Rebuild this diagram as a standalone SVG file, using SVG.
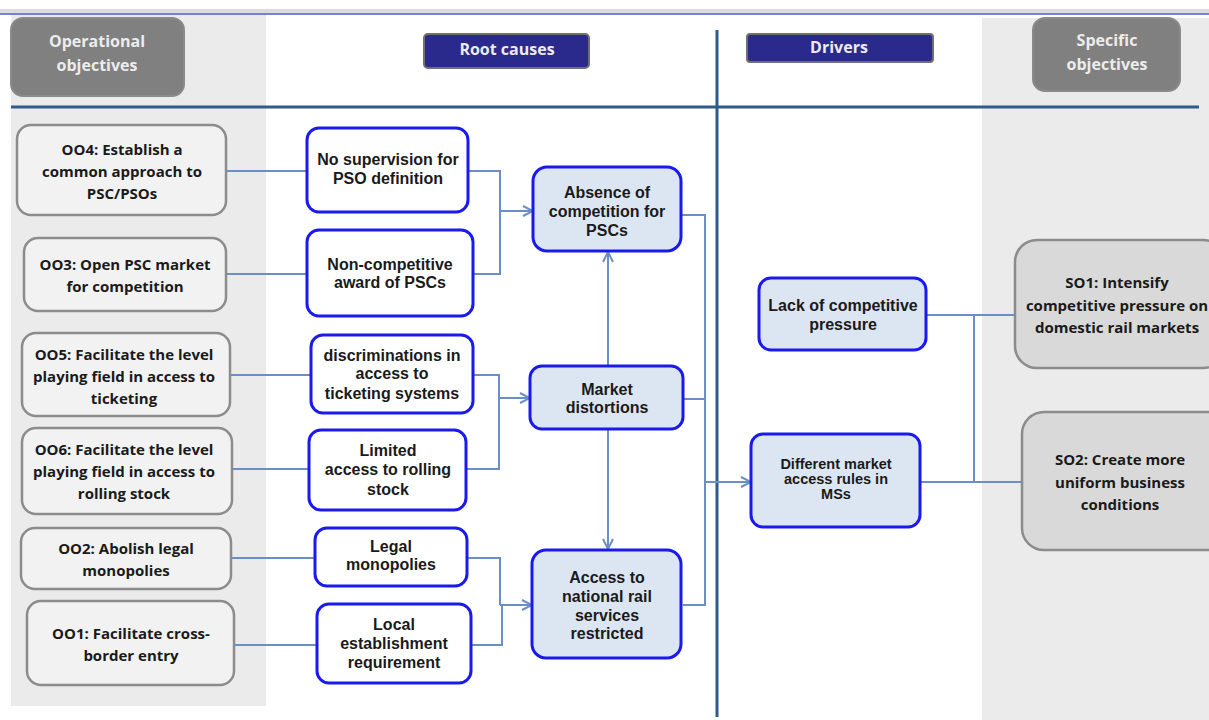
<svg xmlns="http://www.w3.org/2000/svg" width="1209" height="720" viewBox="0 0 1209 720">
<defs>
<marker id="arr" viewBox="0 0 12 12" refX="11" refY="6" markerWidth="12" markerHeight="12" markerUnits="userSpaceOnUse" orient="auto">
<path d="M1,1 L11,6 L1,11" fill="none" stroke="#6a8fc6" stroke-width="2"/>
</marker>
</defs>
<style>
.panel{fill:#ebebeb}
.hdrG{fill:#808080;stroke:#8a8a8a;stroke-width:2}
.hdrB{fill:#2a2a8c;stroke:#707070;stroke-width:2}
.hdrTxt{font-family:"Open Sans","Liberation Sans",sans-serif;font-weight:bold;font-size:16px;fill:#ececec;text-anchor:middle}
.oo{fill:#f2f2f2;stroke:#8c8c8c;stroke-width:2.5}
.ooTxt{font-family:"Open Sans","Liberation Sans",sans-serif;font-weight:bold;font-size:15px;fill:#1a1a1a;text-anchor:middle}
.rc{fill:#ffffff;stroke:#1a1aee;stroke-width:3}
.mid{fill:#dce6f2;stroke:#1a1aee;stroke-width:3}
.rcTxt{font-family:"Liberation Sans",Arial,sans-serif;font-weight:bold;font-size:16px;fill:#1a1a1a;text-anchor:middle}
.so{fill:#d9d9d9;stroke:#8c8c8c;stroke-width:2.5}
.conn{fill:none;stroke:#6a8fc6;stroke-width:2}
</style>
<rect width="1209" height="720" fill="#ffffff"/>
<rect class="panel" x="11" y="14" width="255" height="692"/>
<rect class="panel" x="982" y="18" width="227" height="702"/>
<rect x="0" y="9" width="1209" height="4" fill="#dcdcdc"/>
<line x1="0" y1="14" x2="1209" y2="14" stroke="#4a5ac0" stroke-width="1.5"/>
<line x1="11" y1="107" x2="1199" y2="107" stroke="#2e5a8c" stroke-width="3"/>
<line x1="717" y1="30" x2="717" y2="717" stroke="#2e5a8c" stroke-width="3"/>

<g id="hdr-oo"><rect class="hdrG" x="11" y="18" width="173" height="78" rx="12"/><text class="hdrTxt" x="97" y="47">Operational</text><text class="hdrTxt" x="97" y="71">objectives</text></g>
<g id="hdr-rc"><rect class="hdrB" x="424" y="34" width="165" height="34" rx="4"/><text class="hdrTxt" x="507" y="55">Root causes</text></g>
<g id="hdr-dr"><rect class="hdrB" x="747" y="34" width="186" height="28" rx="3"/><text class="hdrTxt" x="839" y="53">Drivers</text></g>
<g id="hdr-so"><rect class="hdrG" x="1033" y="18" width="147" height="73" rx="12"/><text class="hdrTxt" x="1107" y="46">Specific</text><text class="hdrTxt" x="1107" y="70">objectives</text></g>

<g id="connectors">
<line class="conn" x1="226" y1="171" x2="307" y2="171"/>
<line class="conn" x1="226" y1="274" x2="307" y2="274"/>
<line class="conn" x1="230" y1="375" x2="311" y2="375"/>
<line class="conn" x1="232" y1="469" x2="309" y2="469"/>
<line class="conn" x1="231" y1="558" x2="315" y2="558"/>
<line class="conn" x1="234" y1="645" x2="317" y2="645"/>
<polyline class="conn" points="468,171 500,171 500,274 473,274"/>
<line class="conn" x1="500" y1="211" x2="533" y2="211" marker-end="url(#arr)"/>
<polyline class="conn" points="473,375 499,375 499,469 466,469"/>
<line class="conn" x1="499" y1="398" x2="530" y2="398" marker-end="url(#arr)"/>
<polyline class="conn" points="467,558 500,558 500,605"/>
<polyline class="conn" points="471,645 502,645 502,605"/>
<line class="conn" x1="500" y1="605" x2="532" y2="605" marker-end="url(#arr)"/>
<line class="conn" x1="608" y1="366" x2="608" y2="252" marker-end="url(#arr)"/>
<line class="conn" x1="608" y1="429" x2="608" y2="549" marker-end="url(#arr)"/>
<polyline class="conn" points="681,215 705,215 705,605 683,605"/>
<line class="conn" x1="683" y1="399" x2="705" y2="399"/>
<line class="conn" x1="705" y1="482" x2="751" y2="482" marker-end="url(#arr)"/>
<polyline class="conn" points="926,315 974,315 974,482 920,482"/>
<line class="conn" x1="974" y1="315" x2="1015" y2="315"/>
<line class="conn" x1="974" y1="482" x2="1022" y2="482"/>
</g>

<g id="oo4"><rect class="oo" x="17" y="125" width="209" height="90" rx="14"/><text class="ooTxt" x="122" y="155">OO4: Establish a</text><text class="ooTxt" x="122" y="177">common approach to</text><text class="ooTxt" x="122" y="199">PSC/PSOs</text></g>
<g id="oo3"><rect class="oo" x="24" y="238" width="202" height="73" rx="14"/><text class="ooTxt" x="125" y="270">OO3: Open PSC market</text><text class="ooTxt" x="125" y="292">for competition</text></g>
<g id="oo5"><rect class="oo" x="22" y="333" width="208" height="83" rx="14"/><text class="ooTxt" x="124" y="360">OO5: Facilitate the level</text><text class="ooTxt" x="124" y="382">playing field in access to</text><text class="ooTxt" x="124" y="404">ticketing</text></g>
<g id="oo6"><rect class="oo" x="22" y="428" width="210" height="86" rx="14"/><text class="ooTxt" x="124" y="455">OO6: Facilitate the level</text><text class="ooTxt" x="124" y="477">playing field in access to</text><text class="ooTxt" x="124" y="499">rolling stock</text></g>
<g id="oo2"><rect class="oo" x="21" y="528" width="210" height="61" rx="14"/><text class="ooTxt" x="126" y="554">OO2: Abolish legal</text><text class="ooTxt" x="126" y="576">monopolies</text></g>
<g id="oo1"><rect class="oo" x="27" y="601" width="207" height="84" rx="14"/><text class="ooTxt" x="131" y="639">OO1: Facilitate cross-</text><text class="ooTxt" x="131" y="661">border entry</text></g>

<g id="rc1"><rect class="rc" x="307" y="128" width="161" height="84" rx="12"/><text class="rcTxt" x="388" y="165">No supervision for</text><text class="rcTxt" x="388" y="184">PSO definition</text></g>
<g id="rc2"><rect class="rc" x="307" y="230" width="166" height="86" rx="12"/><text class="rcTxt" x="390" y="270">Non-competitive</text><text class="rcTxt" x="390" y="288">award of PSCs</text></g>
<g id="rc3"><rect class="rc" x="311" y="335" width="162" height="78" rx="12"/><text class="rcTxt" x="392" y="361">discriminations in</text><text class="rcTxt" x="392" y="379">access to</text><text class="rcTxt" x="392" y="399">ticketing systems</text></g>
<g id="rc4"><rect class="rc" x="309" y="430" width="157" height="80" rx="12"/><text class="rcTxt" x="388" y="456">Limited</text><text class="rcTxt" x="388" y="475">access to rolling</text><text class="rcTxt" x="388" y="495">stock</text></g>
<g id="rc5"><rect class="rc" x="315" y="528" width="152" height="58" rx="12"/><text class="rcTxt" x="391" y="552">Legal</text><text class="rcTxt" x="391" y="570">monopolies</text></g>
<g id="rc6"><rect class="rc" x="317" y="604" width="154" height="79" rx="12"/><text class="rcTxt" x="394" y="630">Local</text><text class="rcTxt" x="394" y="649">establishment</text><text class="rcTxt" x="394" y="668">requirement</text></g>

<g id="m1"><rect class="mid" x="533" y="167" width="148" height="84" rx="14"/><text class="rcTxt" x="607" y="198">Absence of</text><text class="rcTxt" x="607" y="217">competition for</text><text class="rcTxt" x="607" y="236">PSCs</text></g>
<g id="m2"><rect class="mid" x="530" y="366" width="153" height="63" rx="12"/><text class="rcTxt" x="607" y="395">Market</text><text class="rcTxt" x="607" y="413">distortions</text></g>
<g id="m3"><rect class="mid" x="532" y="550" width="149" height="108" rx="14"/><text class="rcTxt" x="607" y="583">Access to</text><text class="rcTxt" x="607" y="602">national rail</text><text class="rcTxt" x="607" y="621">services</text><text class="rcTxt" x="607" y="639">restricted</text></g>

<g id="d1"><rect class="mid" x="759" y="278" width="167" height="72" rx="12"/><text class="rcTxt" x="843" y="311">Lack of competitive</text><text class="rcTxt" x="843" y="330">pressure</text></g>
<g id="d2"><rect class="mid" x="751" y="434" width="169" height="93" rx="12"/><text class="rcTxt" x="836" y="469" style="font-size:14.5px">Different market</text><text class="rcTxt" x="836" y="484" style="font-size:14.5px">access rules in</text><text class="rcTxt" x="836" y="499" style="font-size:14.5px">MSs</text></g>

<g id="so1"><rect class="so" x="1015" y="240" width="210" height="128" rx="22"/><text class="ooTxt" x="1117" y="288">SO1: Intensify</text><text class="ooTxt" x="1117" y="311">competitive pressure on</text><text class="ooTxt" x="1117" y="333">domestic rail markets</text></g>
<g id="so2"><rect class="so" x="1022" y="412" width="210" height="138" rx="22"/><text class="ooTxt" x="1120" y="465">SO2: Create more</text><text class="ooTxt" x="1120" y="488">uniform business</text><text class="ooTxt" x="1120" y="510">conditions</text></g>
</svg>
